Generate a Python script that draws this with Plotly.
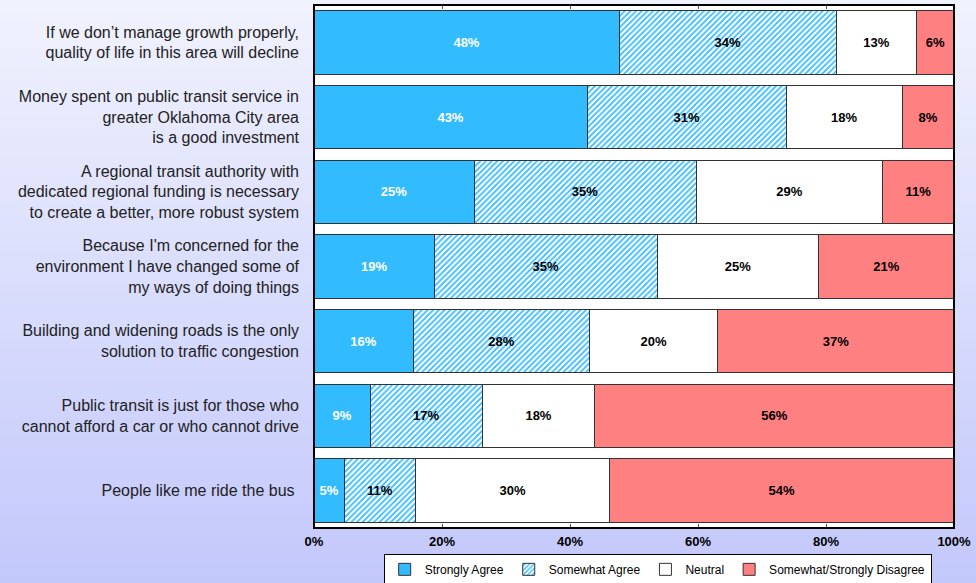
from plotly import graph_objects as go

# Survey statements (top to bottom)
statements = [
    "If we don\u2019t manage growth properly,<br>quality of life in this area will decline",
    "Money spent on public transit service in<br>greater Oklahoma City area<br>is a good investment",
    "A regional transit authority with<br>dedicated regional funding is necessary<br>to create a better, more robust system",
    "Because I'm concerned for the<br>environment I have changed some of<br>my ways of doing things",
    "Building and widening roads is the only<br>solution to traffic congestion",
    "Public transit is just for those who<br>cannot afford a car or who cannot drive",
    "People like me ride the bus ",
]

strongly_agree = [47.7, 42.7, 25.0, 18.8, 15.5, 8.8, 4.7]
somewhat_agree = [33.9, 31.1, 34.7, 34.8, 27.6, 17.5, 11.2]
neutral = [12.6, 18.1, 29.2, 25.3, 20.0, 17.6, 30.3]
disagree = [5.8, 8.1, 11.1, 21.1, 36.9, 56.1, 53.8]

strongly_agree_lbl = ["48%", "43%", "25%", "19%", "16%", "9%", "5%"]
somewhat_agree_lbl = ["34%", "31%", "35%", "35%", "28%", "17%", "11%"]
neutral_lbl = ["13%", "18%", "29%", "25%", "20%", "18%", "30%"]
disagree_lbl = ["6%", "8%", "11%", "21%", "37%", "56%", "54%"]

tick_vals = [0, 20, 40, 60, 80, 100]
tick_text = ["0%", "20%", "40%", "60%", "80%", "100%"]

outline = dict(color="#333333", width=1)
lbl_font = dict(family="Liberation Sans, Arial", size=13)

fig = go.Figure()

fig.add_trace(go.Bar(
    y=statements, x=strongly_agree, orientation="h",
    name="Strongly Agree",
    marker=dict(color="#33bbff", line=outline),
    text=strongly_agree_lbl, textposition="inside",
    insidetextanchor="middle", textangle=0,
    textfont=dict(lbl_font, color="white", weight="bold"),
))

fig.add_trace(go.Bar(
    y=statements, x=somewhat_agree, orientation="h",
    name="Somewhat Agree",
    marker=dict(
        color="white", line=outline,
        pattern=dict(shape="/", fgcolor="#33bbff", bgcolor="white",
                     size=4, solidity=0.45, fillmode="replace"),
    ),
    text=somewhat_agree_lbl, textposition="inside",
    insidetextanchor="middle", textangle=0,
    textfont=dict(lbl_font, color="black", weight="bold"),
))

fig.add_trace(go.Bar(
    y=statements, x=neutral, orientation="h",
    name="Neutral",
    marker=dict(color="white", line=outline),
    text=neutral_lbl, textposition="inside",
    insidetextanchor="middle", textangle=0,
    textfont=dict(lbl_font, color="black", weight="bold"),
))

fig.add_trace(go.Bar(
    y=statements, x=disagree, orientation="h",
    name="Somewhat/Strongly Disagree",
    marker=dict(color="#ff8080", line=outline),
    text=disagree_lbl, textposition="inside",
    insidetextanchor="middle", textangle=0,
    textfont=dict(lbl_font, color="black", weight="bold"),
))

# Background gradient (light lavender at the top to periwinkle at the bottom)
W, H = 976, 583
ml, mr, mt, mb = 314, 22, 5, 55
pw, ph = W - ml - mr, H - mt - mb
top_rgb = (240, 242, 253)
bot_rgb = (195, 200, 251)
n = 60
shapes = []
for i in range(n):
    f = i / (n - 1)
    c = tuple(round(top_rgb[k] + (bot_rgb[k] - top_rgb[k]) * f) for k in range(3))
    y0_px = i * H / n
    y1_px = (i + 1) * H / n + 1
    shapes.append(dict(
        type="rect", xref="paper", yref="paper", layer="below",
        x0=-ml / pw, x1=1 + mr / pw,
        y0=1 + mt / ph - y1_px / ph, y1=1 + mt / ph - y0_px / ph,
        fillcolor="rgb(%d,%d,%d)" % c, line=dict(width=0),
    ))
shapes.append(dict(
    type="rect", xref="paper", yref="paper", layer="below",
    x0=0, x1=1, y0=0, y1=1, fillcolor="white", line=dict(width=0),
))
shapes.append(dict(
    type="rect", xref="paper", yref="paper", layer="above",
    x0=0, x1=1, y0=0, y1=1, line=dict(color="black", width=2),
))

fig.update_layout(
    width=W, height=H,
    barmode="stack",
    bargap=0.15,
    margin=dict(l=ml, r=mr, t=mt, b=mb, autoexpand=False),
    paper_bgcolor="rgb(220,223,252)",
    plot_bgcolor="white",
    shapes=shapes,
    font=dict(family="Liberation Sans, Arial", color="#222222"),
    xaxis=dict(
        range=[0, 100], tickvals=tick_vals, ticktext=tick_text,
        showgrid=False, zeroline=False,
        ticks="inside", ticklen=4, tickcolor="#555555", mirror="ticks",
        tickfont=dict(size=13, color="black", weight="bold"),
        ticklabelstandoff=4,
        fixedrange=True,
    ),
    yaxis=dict(
        autorange="reversed", showgrid=False, ticks="",
        ticklabelstandoff=14,
        tickfont=dict(size=16, color="#222222"),
    ),
    showlegend=True,
    legend=dict(
        orientation="h", x=0.537, xanchor="center",
        yref="container", y=0.05, yanchor="top",
        bgcolor="white", bordercolor="black", borderwidth=1,
        font=dict(size=12, color="black"),
        itemwidth=30, traceorder="normal",
        tracegroupgap=0,
    ),
    uniformtext=dict(mode=False),
)

fig.write_html("out.html", config={"displayModeBar": False},
               post_script="document.body.style.margin='0';")
